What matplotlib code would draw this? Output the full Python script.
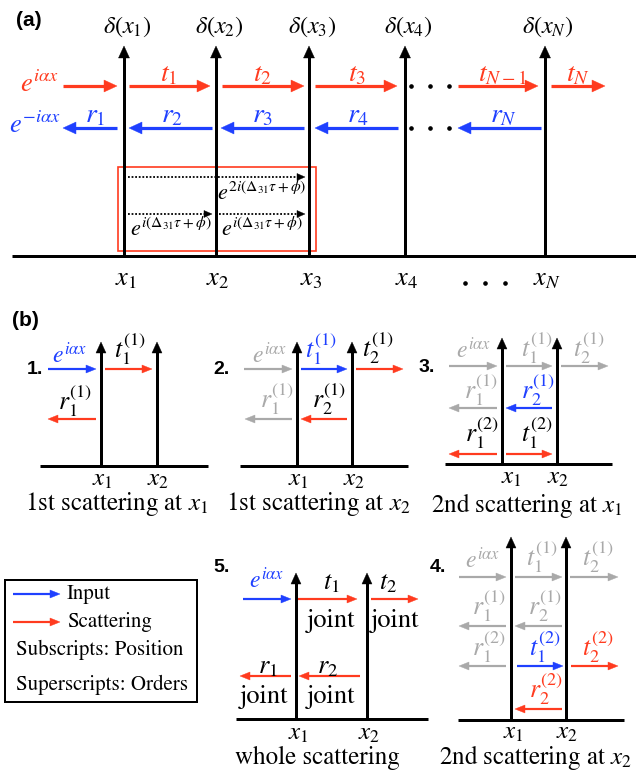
import numpy as np
import matplotlib
matplotlib.use('Agg')
import matplotlib.pyplot as plt
from matplotlib.patches import Rectangle, Polygon

plt.rcParams['mathtext.fontset'] = 'stix'
plt.rcParams['font.family'] = ['STIXGeneral', 'DejaVu Serif']

RED = '#ff3b1f'
BLUE = '#1f40ff'
GRAY = '#a9a9a9'
BLACK = '#000000'
BOLD = dict(family=['Liberation Sans', 'DejaVu Sans'], weight='bold')

# ---------------- panel (a) content ----------------
a_pos = [124, 216, 309, 405, 545]
a_delta = [r'$\delta(x_1)$', r'$\delta(x_2)$', r'$\delta(x_3)$', r'$\delta(x_4)$', r'$\delta(x_N)$']
a_xlab = [r'$x_1$', r'$x_2$', r'$x_3$', r'$x_4$', r'$x_N$']
a_t_arrows = [(63, 117), (129, 210), (222, 304), (315, 397), (458, 538), (551, 605)]
a_t_labels = [(None, None), (169, r'$t_1$'), (262, r'$t_2$'), (357, r'$t_3$'),
              (503, r'$t_{N-1}$'), (578, r'$t_N$')]
a_r_arrows = [(117, 63), (212, 129), (304, 221), (398, 315), (541, 458)]
a_r_labels = [(95, r'$r_1$'), (172, r'$r_2$'), (263, r'$r_3$'), (358, r'$r_4$'), (503, r'$r_N$')]

# ---------------- panel (b) content ----------------
subpanels = [
    dict(num='1.', num_xy=(35, 370), base=(40, 208, 466), vx=(101, 157), top=342,
         arrows=[(48, 96, 369, BLUE), (105, 152, 369, RED), (96, 48, 419, RED)],
         labels=[(70, 355, r'$e^{i\alpha x}$', BLUE), (130, 349, r'$t_1^{(1)}$', BLACK),
                 (75, 401, r'$r_1^{(1)}$', BLACK)],
         xl=[(102, 480), (158, 480)], cap=(117, 504, r'1st scattering at $x_1$')),
    dict(num='2.', num_xy=(222, 370), base=(240, 408, 466), vx=(297, 352), top=342,
         arrows=[(244, 292, 369, GRAY), (301, 347, 369, BLUE), (356, 403, 369, RED),
                 (292, 245, 419, GRAY), (347, 301, 419, RED)],
         labels=[(270, 355, r'$e^{i\alpha x}$', GRAY), (321, 349, r'$t_1^{(1)}$', BLUE),
                 (378, 348, r'$t_2^{(1)}$', BLACK), (277, 399, r'$r_1^{(1)}$', GRAY),
                 (329, 399, r'$r_2^{(1)}$', BLACK)],
         xl=[(298, 480), (354, 480)], cap=(318, 504, r'1st scattering at $x_2$')),
    dict(num='3.', num_xy=(427, 368), base=(445, 612, 464), vx=(502, 557), top=338,
         arrows=[(449, 497, 366, GRAY), (506, 552, 366, GRAY), (561, 608, 366, GRAY),
                 (497, 449, 408, GRAY), (552, 506, 408, BLUE),
                 (497, 449, 454, RED), (506, 552, 454, RED)],
         labels=[(474, 350, r'$e^{i\alpha x}$', GRAY), (537, 348, r'$t_1^{(1)}$', GRAY),
                 (589, 348, r'$t_2^{(1)}$', GRAY), (481, 390, r'$r_1^{(1)}$', GRAY),
                 (538, 390, r'$r_2^{(1)}$', BLUE), (482, 433, r'$r_1^{(2)}$', BLACK),
                 (537, 433, r'$t_1^{(2)}$', BLACK)],
         xl=[(511, 478), (558, 478)], cap=(527, 505, r'2nd scattering at $x_1$')),
    dict(num='5.', num_xy=(222, 567), base=(236, 428, 719), vx=(296, 367), top=573,
         arrows=[(243, 291, 599, BLUE), (298, 357, 599, RED), (371, 418, 599, RED),
                 (291, 240, 676, RED), (360, 299, 676, RED)],
         labels=[(267, 580, r'$e^{i\alpha x}$', BLUE), (331, 583, r'$t_1$', BLACK),
                 (388, 583, r'$t_2$', BLACK), (268, 667, r'$r_1$', BLACK),
                 (328, 667, r'$r_2$', BLACK)],
         words=[(331, 621, 'joint'), (395, 621, 'joint'),
                (264, 697, 'joint'), (331, 697, 'joint')],
         xl=[(298, 734), (369, 734)], cap=(317, 758, 'whole scattering')),
    dict(num='4.', num_xy=(438, 568), base=(458, 624, 720), vx=(511, 566), top=537,
         arrows=[(459, 506, 577, GRAY), (515, 562, 577, GRAY), (570, 618, 577, GRAY),
                 (506, 459, 626, GRAY), (562, 515, 626, GRAY),
                 (506, 459, 666, GRAY), (517, 563, 666, BLUE), (571, 618, 666, RED),
                 (562, 515, 709, RED)],
         labels=[(483, 560, r'$e^{i\alpha x}$', GRAY), (542, 557, r'$t_1^{(1)}$', GRAY),
                 (598, 557, r'$t_2^{(1)}$', GRAY), (489, 606, r'$r_1^{(1)}$', GRAY),
                 (545, 606, r'$r_2^{(1)}$', GRAY), (489, 647, r'$r_1^{(2)}$', GRAY),
                 (545, 647, r'$t_1^{(2)}$', BLUE), (598, 647, r'$t_2^{(2)}$', RED),
                 (546, 689, r'$r_2^{(2)}$', RED)],
         xl=[(513, 733), (567, 733)], cap=(535, 758, r'2nd scattering at $x_2$')),
]

legend_items = [('Input', BLUE, 594), ('Scattering', RED, 622)]
legend_notes = [('Subscripts: Position', 650), ('Superscripts: Orders', 685)]

# ---------------- drawing ----------------
fig = plt.figure(figsize=(6.36, 7.76), dpi=100)
ax = fig.add_axes([0, 0, 1, 1])
ax.set_xlim(0, 636)
ax.set_ylim(776, 0)
ax.axis('off')

PX = 72 / 100.0  # points per pixel


def arrow(x0, y0, x1, y1, color, lw_px, hl, hw, ls='-', z=3):
    d = np.array([x1 - x0, y1 - y0], float)
    L = np.hypot(*d)
    u = d / L
    p = np.array([-u[1], u[0]])
    tip = np.array([x1, y1], float)
    base = tip - hl * u
    end = tip - (hl * 0.6) * u
    ax.plot([x0, end[0]], [y0, end[1]], color=color, lw=lw_px * PX, ls=ls,
            solid_capstyle='butt', zorder=z)
    ax.add_patch(Polygon([tip, base + hw * p, base - hw * p], closed=True,
                         facecolor=color, edgecolor=color, lw=0.3, zorder=z))


def txt(x, y, s, color=BLACK, size=15, **kw):
    ax.text(x, y, s, color=color, fontsize=size, ha='center', va='center', **kw)


# panel (a)
ax.text(29, 20, '(a)', fontsize=15, ha='center', va='center', **BOLD)
ax.plot([12, 636], [256, 256], color=BLACK, lw=3 * PX, solid_capstyle='butt', zorder=4)
for x, d, xl in zip(a_pos, a_delta, a_xlab):
    arrow(x, 256, x, 46, BLACK, 3, 12, 5.5, z=4)
    txt(x + 3, 27, d, size=17.5)
    txt(x + 2, 279, xl, size=19)
for xd in [465, 485, 505]:
    ax.plot(xd, 283, 'o', color=BLACK, ms=2.3, zorder=4)

txt(39, 85, r'$e^{i\alpha x}$', RED, size=19)
txt(35, 126, r'$e^{-i\alpha x}$', BLUE, size=19)
for (x0, x1), (lx, lab) in zip(a_t_arrows, a_t_labels):
    arrow(x0, 86, x1, 86, RED, 3.2, 13, 6)
    if lab:
        txt(lx, 75, lab, RED, size=20)
for (x0, x1), (lx, lab) in zip(a_r_arrows, a_r_labels):
    arrow(x0, 128, x1, 128, BLUE, 3.2, 13, 6)
    txt(lx, 116, lab, BLUE, size=20)
for yd in (86, 128):
    for xd in (411, 430, 449):
        ax.plot(xd, yd, 'o', color=BLACK, ms=2.3)

ax.add_patch(Rectangle((118, 167), 198, 84, fill=False, edgecolor=RED, lw=1.2, zorder=2))
arrow(128, 177, 305, 177, BLACK, 1.8, 8, 3.5, ls=(0, (1, 1)))
arrow(128, 214, 212, 214, BLACK, 1.8, 8, 3.5, ls=(0, (1, 1)))
arrow(219, 214, 305, 214, BLACK, 1.8, 8, 3.5, ls=(0, (1, 1)))
txt(262, 193, r'$e^{2i(\Delta_{31}\tau+\phi)}$', size=16)
txt(171, 229, r'$e^{i(\Delta_{31}\tau+\phi)}$', size=16)
txt(262, 229, r'$e^{i(\Delta_{31}\tau+\phi)}$', size=16)

# panel (b)
ax.text(25, 320, '(b)', fontsize=15, ha='center', va='center', **BOLD)
for sp in subpanels:
    ax.text(sp['num_xy'][0], sp['num_xy'][1], sp['num'], fontsize=14, ha='center',
            va='center', **BOLD)
    xl0, xr0, yb = sp['base']
    ax.plot([xl0, xr0], [yb, yb], color=BLACK, lw=3 * PX, solid_capstyle='butt', zorder=4)
    for vx in sp['vx']:
        arrow(vx, yb, vx, sp['top'], BLACK, 3, 11, 5, z=4)
    for x0, x1, y, c in sp['arrows']:
        arrow(x0, y, x1, y, c, 2.2, 10, 4)
    for x, y, s, c in sp['labels']:
        size = 17 if 'alpha' in s else (18.5 if '^' in s else 19)
        txt(x, y, s, c, size=size)
    for x, y, s in sp.get('words', []):
        txt(x, y, s, size=19)
    for (x, y), s in zip(sp['xl'], [r'$x_1$', r'$x_2$']):
        txt(x, y, s, size=18)
    cx, cy, cs = sp['cap']
    txt(cx, cy, cs, size=18)

# legend box
ax.add_patch(Rectangle((5, 580), 192, 122, fill=False, edgecolor=BLACK, lw=2 * PX, zorder=5))
for lab, c, y in legend_items:
    arrow(13, y, 60, y, c, 2.2, 10, 4)
    ax.text(67, y, lab, fontsize=15, ha='left', va='center')
for lab, y in legend_notes:
    ax.text(16, y, lab, fontsize=15, ha='left', va='center')

fig.savefig('out.png', dpi=100)
